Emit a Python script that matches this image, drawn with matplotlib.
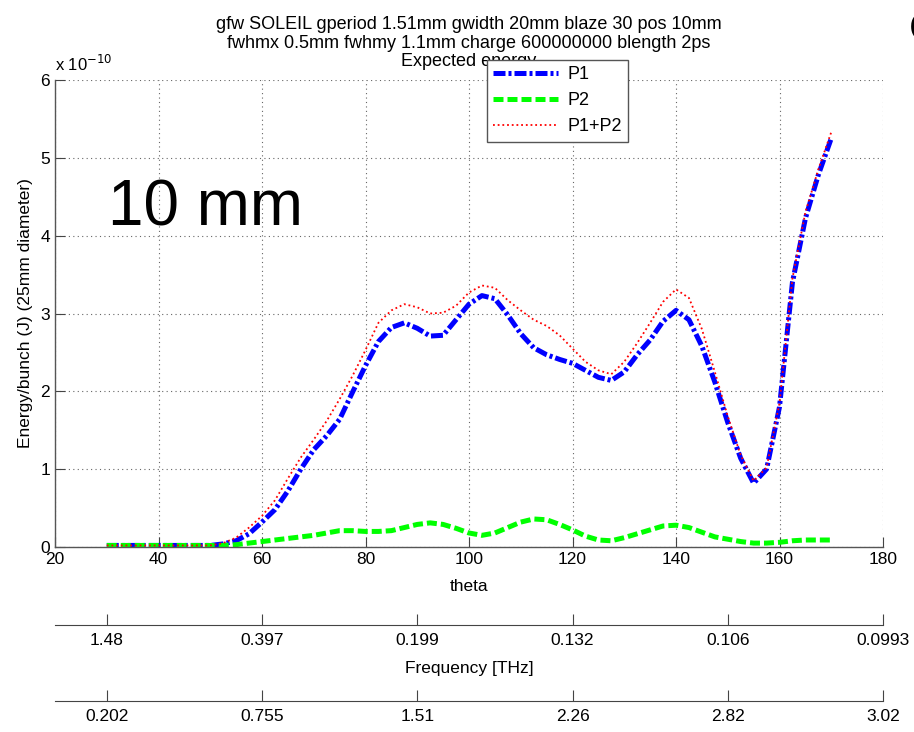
import matplotlib
matplotlib.use("Agg")
import matplotlib.pyplot as plt

plt.rcParams['font.family'] = ['Liberation Sans', 'DejaVu Sans']

theta = [30, 35, 40, 45, 50, 52.5, 55, 57.5, 60, 62.5, 65, 67.5, 70, 72.5, 75, 77.5,
         80, 82.5, 85, 87.5, 90, 92.5, 95, 97.5, 100, 102.5, 105, 107.5, 110, 112.5,
         115, 117.5, 120, 122.5, 125, 127.5, 130, 132.5, 135, 137.5, 140, 142.5, 145,
         147.5, 150, 152.5, 155, 157.5, 160, 162.5, 165, 167.5, 170]

p1 = [0.02, 0.02, 0.02, 0.02, 0.02, 0.04, 0.08, 0.17, 0.32, 0.48, 0.72, 1.00, 1.25, 1.43,
      1.64, 1.99, 2.33, 2.64, 2.82, 2.88, 2.81, 2.71, 2.72, 2.92, 3.12, 3.23, 3.19, 2.98,
      2.74, 2.56, 2.47, 2.41, 2.36, 2.27, 2.18, 2.14, 2.25, 2.47, 2.66, 2.90, 3.04, 2.92,
      2.58, 2.12, 1.60, 1.14, 0.82, 1.00, 1.80, 3.40, 4.22, 4.78, 5.25]

p2 = [0.02, 0.02, 0.02, 0.02, 0.02, 0.02, 0.03, 0.05, 0.07, 0.09, 0.11, 0.13, 0.15, 0.18,
      0.21, 0.21, 0.20, 0.20, 0.21, 0.25, 0.29, 0.31, 0.29, 0.24, 0.18, 0.15, 0.18, 0.25,
      0.32, 0.36, 0.35, 0.29, 0.22, 0.14, 0.09, 0.08, 0.12, 0.17, 0.22, 0.27, 0.28, 0.25,
      0.19, 0.13, 0.10, 0.07, 0.05, 0.05, 0.06, 0.08, 0.09, 0.09, 0.09]

p12 = [0.02, 0.02, 0.02, 0.02, 0.02, 0.05, 0.12, 0.25, 0.40, 0.60, 0.88, 1.15, 1.38, 1.62,
       1.90, 2.20, 2.53, 2.88, 3.04, 3.12, 3.08, 3.00, 3.01, 3.10, 3.27, 3.36, 3.33, 3.17,
       3.04, 2.92, 2.84, 2.72, 2.55, 2.38, 2.27, 2.22, 2.38, 2.62, 2.88, 3.15, 3.31, 3.20,
       2.80, 2.25, 1.68, 1.18, 0.85, 1.02, 1.85, 3.45, 4.30, 4.85, 5.33]

xticks = [20, 40, 60, 80, 100, 120, 140, 160, 180]
yticks = [0, 1, 2, 3, 4, 5, 6]
sec_ticks = [30, 60, 90, 120, 150, 180]
freq_labels = ['1.48', '0.397', '0.199', '0.132', '0.106', '0.0993']
wave_labels = ['0.202', '0.755', '1.51', '2.26', '2.82', '3.02']

W, H = 914, 732
fig = plt.figure(figsize=(W / 100, H / 100), dpi=100)
fig.patch.set_facecolor('white')

FS = 12.5
L, R = 55 / W, 883 / W
ax = fig.add_axes([L, 1 - 547 / H, R - L, (547 - 80) / H])
ax.plot(theta, p1, color='#0000ff', lw=3.6, linestyle=(0, (2.4, 0.6, 0.6, 0.6)), label='P1')
ax.plot(theta, p2, color='#00ff00', lw=3.6, linestyle=(0, (2.0, 0.8)), label='P2')
ax.plot(theta, p12, color='#ff0000', lw=1.3, linestyle=(0, (1, 1.6)), label='P1+P2')

ax.set_xlim(20, 180)
ax.set_ylim(0, 6)
ax.set_xticks(xticks)
ax.set_yticks(yticks)
ax.grid(True, color='#666666', linestyle=(0, (1, 3)), lw=0.8)
for s in ['top', 'right']:
    ax.spines[s].set_visible(False)
for s in ['left', 'bottom']:
    ax.spines[s].set_color('#555555')
    ax.spines[s].set_linewidth(1.0)
ax.tick_params(direction='in', length=7, colors='#444444', labelcolor='black', labelsize=FS)
ax.set_xlabel('theta', fontsize=FS, labelpad=9)
ax.set_ylabel('Energy/bunch (J) (25mm diameter)', fontsize=FS, labelpad=5)
ax.text(0.0, 1.012, r'x 10$^{-10}$', transform=ax.transAxes, fontsize=12, va='bottom', ha='left')
ax.set_title('gfw SOLEIL gperiod 1.51mm gwidth 20mm blaze 30 pos 10mm\n'
             'fwhmx 0.5mm fwhmy 1.1mm charge 600000000 blength 2ps\n'
             'Expected energy', fontsize=13, linespacing=1.12, pad=10)
ax.text((108 - 55) / (883 - 55), 0.725, '10 mm', transform=ax.transAxes,
        fontsize=46, va='center', ha='left')

leg = ax.legend(loc='upper left', bbox_to_anchor=((487 - 55) / (883 - 55), 1 + 20 / 467),
                fontsize=13, frameon=True, fancybox=False, framealpha=1,
                edgecolor='#555555', handlelength=3.6, borderpad=0.35, labelspacing=0.5,
                handletextpad=0.5, borderaxespad=0)
leg.get_frame().set_linewidth(1.0)
leg.set_zorder(10)

for ypix, labels, xl in [(625, freq_labels, 'Frequency [THz]'), (701, wave_labels, None)]:
    a2 = fig.add_axes([L, 1 - ypix / H, R - L, 0.0001])
    a2.set_xlim(20, 180)
    a2.set_yticks([])
    for s in ['top', 'right', 'left']:
        a2.spines[s].set_visible(False)
    a2.spines['bottom'].set_color('#444444')
    a2.set_xticks(sec_ticks)
    a2.set_xticklabels(labels)
    a2.tick_params(axis='x', direction='in', length=8, colors='#444444', labelcolor='black',
                   labelsize=FS, pad=6)
    a2.patch.set_visible(False)
    if xl:
        a2.set_xlabel(xl, fontsize=FS, labelpad=9)

fig.text(909 / W, 1 - 30 / H, 'C', fontsize=30, va='center', ha='left')

fig.savefig('out.png', dpi=100)
